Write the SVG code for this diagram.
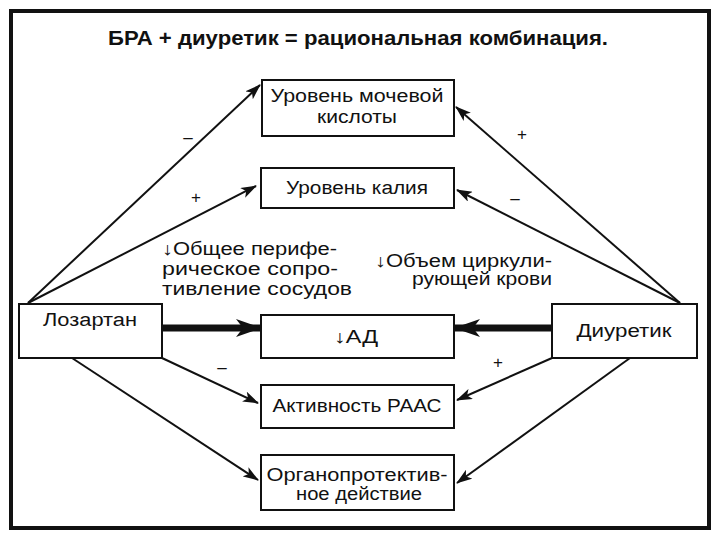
<svg xmlns="http://www.w3.org/2000/svg" width="720" height="540" viewBox="0 0 720 540">
<defs>
<style>
text{font-family:"Liberation Sans",Arial,sans-serif;fill:#111}
.box{fill:#fff;stroke:#111;stroke-width:2}
.lbl{font-size:18px;text-anchor:middle}
.note{font-size:18px}
.sign{font-size:17px;text-anchor:middle}
.ln{stroke:#111;stroke-width:2;fill:none}
.thick{stroke:#111;stroke-width:7;fill:none}
</style>
<marker id="ah" markerWidth="16" markerHeight="11" refX="15" refY="5.5" orient="auto" markerUnits="userSpaceOnUse">
<path d="M0,0 L16,5.5 L0,11 L4,5.5 Z" fill="#111"/>
</marker>
<marker id="ahb" markerWidth="26" markerHeight="18" refX="26" refY="9" orient="auto" markerUnits="userSpaceOnUse">
<path d="M0,0 L26,9 L0,18 L7,9 Z" fill="#111"/>
</marker>
</defs>
<rect x="0" y="0" width="720" height="540" fill="#fff"/>
<rect x="11" y="11" width="698" height="517" fill="none" stroke="#111" stroke-width="4"/>
<text x="358" y="45" font-size="20" font-weight="bold" text-anchor="middle" textLength="500" lengthAdjust="spacingAndGlyphs">БРА + диуретик = рациональная комбинация.</text>

<g id="connectors">
<line class="ln" x1="28" y1="303" x2="260" y2="85" marker-end="url(#ah)"/>
<line class="ln" x1="28" y1="303" x2="256" y2="186" marker-end="url(#ah)"/>
<line class="ln" x1="680" y1="303" x2="456" y2="107" marker-end="url(#ah)"/>
<line class="ln" x1="680" y1="303" x2="457" y2="190" marker-end="url(#ah)"/>
<line class="ln" x1="162" y1="358" x2="258" y2="403" marker-end="url(#ah)"/>
<line class="ln" x1="72" y1="358" x2="258" y2="480" marker-end="url(#ah)"/>
<line class="ln" x1="552" y1="358" x2="457" y2="400" marker-end="url(#ah)"/>
<line class="ln" x1="630" y1="358" x2="457" y2="483" marker-end="url(#ah)"/>
<line class="thick" x1="162" y1="328" x2="262" y2="328" marker-end="url(#ahb)"/>
<line class="thick" x1="552" y1="328" x2="454" y2="328" marker-end="url(#ahb)"/>
</g>

<g id="signs">
<text class="sign" x="188" y="143">–</text>
<text class="sign" x="196" y="203">+</text>
<text class="sign" x="522" y="140">+</text>
<text class="sign" x="515" y="204">–</text>
<text class="sign" x="222" y="373">–</text>
<text class="sign" x="498" y="368">+</text>
</g>

<g id="notes">
<text class="note" x="162" y="255" textLength="175" lengthAdjust="spacingAndGlyphs">↓Общее перифе-</text>
<text class="note" x="162" y="275" textLength="176" lengthAdjust="spacingAndGlyphs">рическое сопро-</text>
<text class="note" x="162" y="295" textLength="190" lengthAdjust="spacingAndGlyphs">тивление сосудов</text>
<text class="note" x="375" y="267" textLength="177" lengthAdjust="spacingAndGlyphs">↓Объем циркули-</text>
<text class="note" x="412" y="285" textLength="140" lengthAdjust="spacingAndGlyphs">рующей крови</text>
</g>

<g id="node-uric">
<rect class="box" x="262" y="80" width="192" height="56"/>
<text class="lbl" x="357" y="102" textLength="173" lengthAdjust="spacingAndGlyphs">Уровень мочевой</text>
<text class="lbl" x="357" y="123" textLength="80" lengthAdjust="spacingAndGlyphs">кислоты</text>
</g>
<g id="node-potassium">
<rect class="box" x="261" y="168" width="193" height="40"/>
<text class="lbl" x="357" y="194" textLength="142" lengthAdjust="spacingAndGlyphs">Уровень калия</text>
</g>
<g id="node-losartan">
<rect class="box" x="19" y="304" width="143" height="54"/>
<text class="lbl" x="90" y="326" textLength="94" lengthAdjust="spacingAndGlyphs">Лозартан</text>
</g>
<g id="node-bp">
<rect class="box" x="261" y="315" width="193" height="43"/>
<text class="lbl" x="356" y="343" textLength="44" lengthAdjust="spacingAndGlyphs">↓АД</text>
</g>
<g id="node-diuretic">
<rect class="box" x="552" y="304" width="145" height="54"/>
<text class="lbl" x="624" y="337" textLength="95" lengthAdjust="spacingAndGlyphs">Диуретик</text>
</g>
<g id="node-raas">
<rect class="box" x="261" y="385" width="193" height="43"/>
<text class="lbl" x="357" y="412" textLength="169" lengthAdjust="spacingAndGlyphs">Активность РААС</text>
</g>
<g id="node-organ">
<rect class="box" x="261" y="455" width="193" height="55"/>
<text class="lbl" x="357" y="481" textLength="181" lengthAdjust="spacingAndGlyphs">Органопротектив-</text>
<text class="lbl" x="359" y="500" textLength="126" lengthAdjust="spacingAndGlyphs">ное действие</text>
</g>
</svg>
